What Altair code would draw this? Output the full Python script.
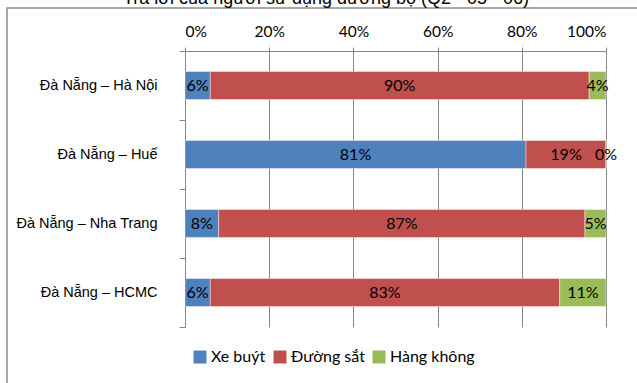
import altair as alt
import pandas as pd

# Survey answers per route (percent of respondents)
routes = ["Đà Nẵng – Hà Nội", "Đà Nẵng – Huế", "Đà Nẵng – Nha Trang", "Đà Nẵng – HCMC"]
modes = ["Xe buýt", "Đường sắt", "Hàng không"]
bus = [6, 81, 8, 6]
rail = [90, 19, 87, 83]
air = [4, 0, 5, 11]
colors = ["#4F81BD", "#C0504D", "#9BBB59"]
x_ticks = [0, 0.2, 0.4, 0.6, 0.8, 1.0]
title_text = "Trả lời của người sử dụng đường bộ (Q2 - 05 - 06)"

GRAY = "#868686"
BODY_FONT = "Lato"
LABEL_FONT = "Liberation Sans"

rows = []
for i, r in enumerate(routes):
    for k, (m, vals) in enumerate(zip(modes, [bus, rail, air])):
        rows.append({"route": r, "mode": m, "k": k, "pct": vals[i]})
df = pd.DataFrame(rows)

base = (
    alt.Chart(df)
    .transform_calculate(share="datum.pct / 100")
    .transform_stack(stack="share", groupby=["route"], sort=[alt.SortField("k")], as_=["s0", "s1"])
    .transform_calculate(mid="(datum.s0 + datum.s1) / 2", label="datum.pct + '%'")
)

y_enc = alt.Y(
    "route:N",
    sort=routes,
    title=None,
    scale=alt.Scale(paddingInner=0, paddingOuter=0),
    axis=alt.Axis(
        bandPosition=1,
        tickExtra=True,
        tickSize=6,
        tickColor=GRAY,
        domainColor=GRAY,
        labelPadding=22,
        labelFont=LABEL_FONT,
        labelFontSize=14.5,
        labelColor="#000",
        labelBaseline="middle",
        labelLimit=200,
    ),
)

x_enc = alt.X(
    "s0:Q",
    title=None,
    scale=alt.Scale(domain=[0, 1], nice=False),
    axis=alt.Axis(
        orient="top",
        values=x_ticks,
        format="%",
        grid=True,
        gridColor=GRAY,
        gridWidth=1,
        domainColor=GRAY,
        tickColor=GRAY,
        tickSize=4,
        labelPadding=11,
        labelBaseline="alphabetic",
        labelFont=BODY_FONT,
        labelFontSize=15.5,
        labelColor="#000",
    ),
)

bars = base.mark_bar(size=28, stroke="white", strokeWidth=0.6, strokeOpacity=0.7).encode(
    y=y_enc,
    x=x_enc,
    x2="s1:Q",
    color=alt.Color(
        "mode:N",
        scale=alt.Scale(domain=modes, range=colors),
        sort=modes,
        legend=alt.Legend(
            orient="none",
            legendX=7,
            legendY=298,
            direction="horizontal",
            title=None,
            symbolType="square",
            symbolSize=169,
            symbolStrokeWidth=0,
            labelFont=BODY_FONT,
            labelFontSize=16,
            labelColor="#000",
            labelOffset=3,
            columnPadding=6,
        ),
    ),
)

labels = base.mark_text(font=BODY_FONT, fontSize=16, color="#000").encode(
    y=alt.Y("route:N", sort=routes),
    x=alt.X("mid:Q"),
    text="label:N",
)

one = pd.DataFrame({"t": [title_text]})

# outer chart frame, running off the right and bottom edges
frame = alt.Chart(one).mark_rect(fill="transparent", stroke="#8c8c8c", strokeWidth=1.5).encode(
    x=alt.value(-178), x2=alt.value(700), y=alt.value(-43), y2=alt.value(400)
)

# heading sits right at the top edge of the canvas
title_layer = alt.Chart(one).mark_text(
    font=LABEL_FONT, fontSize=18, align="center", baseline="alphabetic", color="#000"
).encode(text="t:N", x=alt.value(141), y=alt.value(-47))

chart = (
    alt.layer(frame, bars, labels, title_layer)
    .properties(
        width=421,
        height=276,
        padding={"left": 185, "top": 51, "right": 31, "bottom": 56},
        autosize=alt.AutoSizeParams(type="none"),
    )
    .configure_view(strokeWidth=0)
)

chart.save("out.html", embed_options={"renderer": "svg", "actions": False})
